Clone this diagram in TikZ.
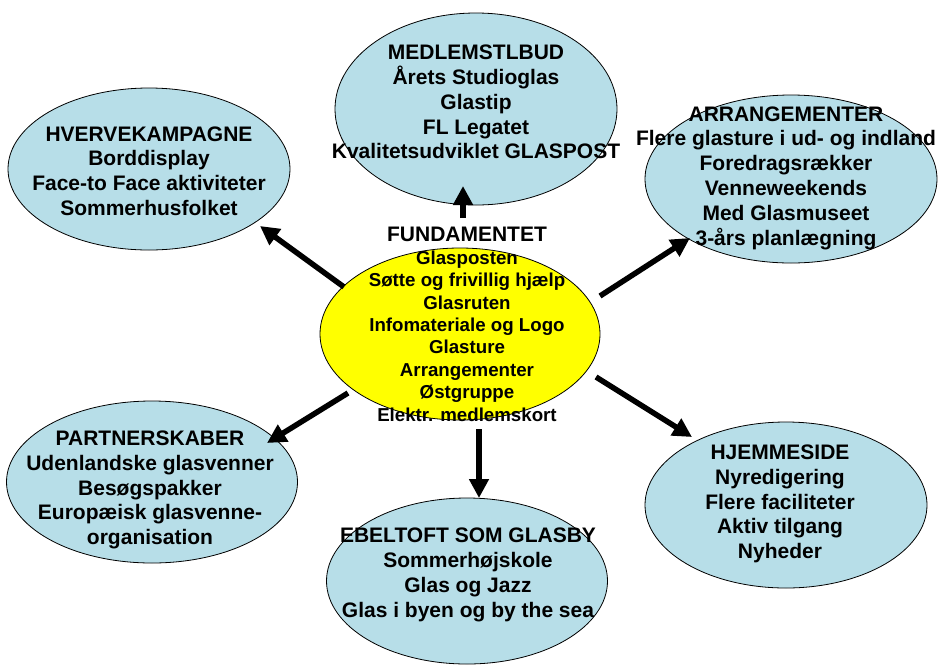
\documentclass[tikz,border=0pt]{standalone}
\usepackage{fontspec}
\setmainfont{Liberation Sans}
\usetikzlibrary{shapes.geometric,arrows.meta}
\definecolor{lblue}{RGB}{183,222,232}
\definecolor{cyel}{RGB}{255,255,0}
\tikzset{
  bubble/.style={ellipse,draw=black,line width=0.8pt,fill=lblue,inner sep=0pt},
  core/.style={ellipse,draw=black,line width=0.8pt,fill=cyel,inner sep=0pt},
  txt/.style={align=center,font=\bfseries\fontsize{21}{24.8}\selectfont,inner sep=0pt},
  ctxt/.style={align=center,font=\bfseries\fontsize{18.7}{22.4}\selectfont,inner sep=0pt},
  bigarrow/.style={line width=5.5pt,-{Triangle[length=19pt,width=19pt]}}
}
\begin{document}
\begin{tikzpicture}[x=1pt,y=-1pt]
\useasboundingbox (0,0) rectangle (940,665);
% ellipses
\node[bubble,minimum width=282pt,minimum height=192pt] (eMed) at (476,109) {};
\node[bubble,minimum width=282pt,minimum height=162pt] (eHve) at (149,169) {};
\node[bubble,minimum width=292pt,minimum height=168pt] (eArr) at (791,179) {};
\node[bubble,minimum width=291pt,minimum height=162pt] (ePar) at (152,482) {};
\node[bubble,minimum width=281pt,minimum height=166pt] (eEbe) at (467,581) {};
\node[bubble,minimum width=282pt,minimum height=166pt] (eHje) at (786,505) {};
\node[core,minimum width=280pt,minimum height=172pt] (eFun) at (460,334) {};
% texts
\node[txt] (tMed) at (476,102) {MEDLEMSTLBUD\\Årets Studioglas\\Glastip\\FL Legatet\\Kvalitetsudviklet GLASPOST};
\node[txt] (tHve) at (149,171) {HVERVEKAMPAGNE\\Borddisplay\\Face-to Face aktiviteter\\Sommerhusfolket};
\node[txt] (tArr) at (786,178) {ARRANGEMENTER\\Flere glasture i ud- og indland\\Foredragsrækker\\Venneweekends\\Med Glasmuseet\\3-års planlægning};
\node[txt] (tPar) at (150,490) {PARTNERSKABER\\Udenlandske glasvenner\\Besøgspakker\\Europæisk glasvenne-\\organisation};
\node[txt] (tEbe) at (468,575) {EBELTOFT SOM GLASBY\\Sommerhøjskole\\Glas og Jazz\\Glas i byen og by the sea};
\node[txt] (tHje) at (780,504) {HJEMMESIDE\\Nyredigering\\Flere faciliteter\\Aktiv tilgang\\Nyheder};
\node[txt] (tFunT) at (467,234) {FUNDAMENTET};
\node[ctxt] (tFun) at (467,336) {Glasposten\\Søtte og frivillig hjælp\\Glasruten\\Infomateriale og Logo\\Glasture\\Arrangementer\\Østgruppe\\Elektr. medlemskort};
% arrow endpoints
\coordinate (aUs) at (463,218); \coordinate (aUe) at (463,186);
\coordinate (aLUs) at (344,287); \coordinate (aLUe) at (260,226);
\coordinate (aRUs) at (600,296); \coordinate (aRUe) at (690,238);
\coordinate (aLDs) at (348,393); \coordinate (aLDe) at (267,443);
\coordinate (aDs) at (479,429); \coordinate (aDe) at (479,498);
\coordinate (aRDs) at (596,377); \coordinate (aRDe) at (692,437);
\draw[bigarrow] (aUs) -- (aUe);
\draw[bigarrow] (aLUs) -- (aLUe);
\draw[bigarrow] (aRUs) -- (aRUe);
\draw[bigarrow] (aLDs) -- (aLDe);
\draw[bigarrow] (aDs) -- (aDe);
\draw[bigarrow] (aRDs) -- (aRDe);
\end{tikzpicture}
\end{document}
